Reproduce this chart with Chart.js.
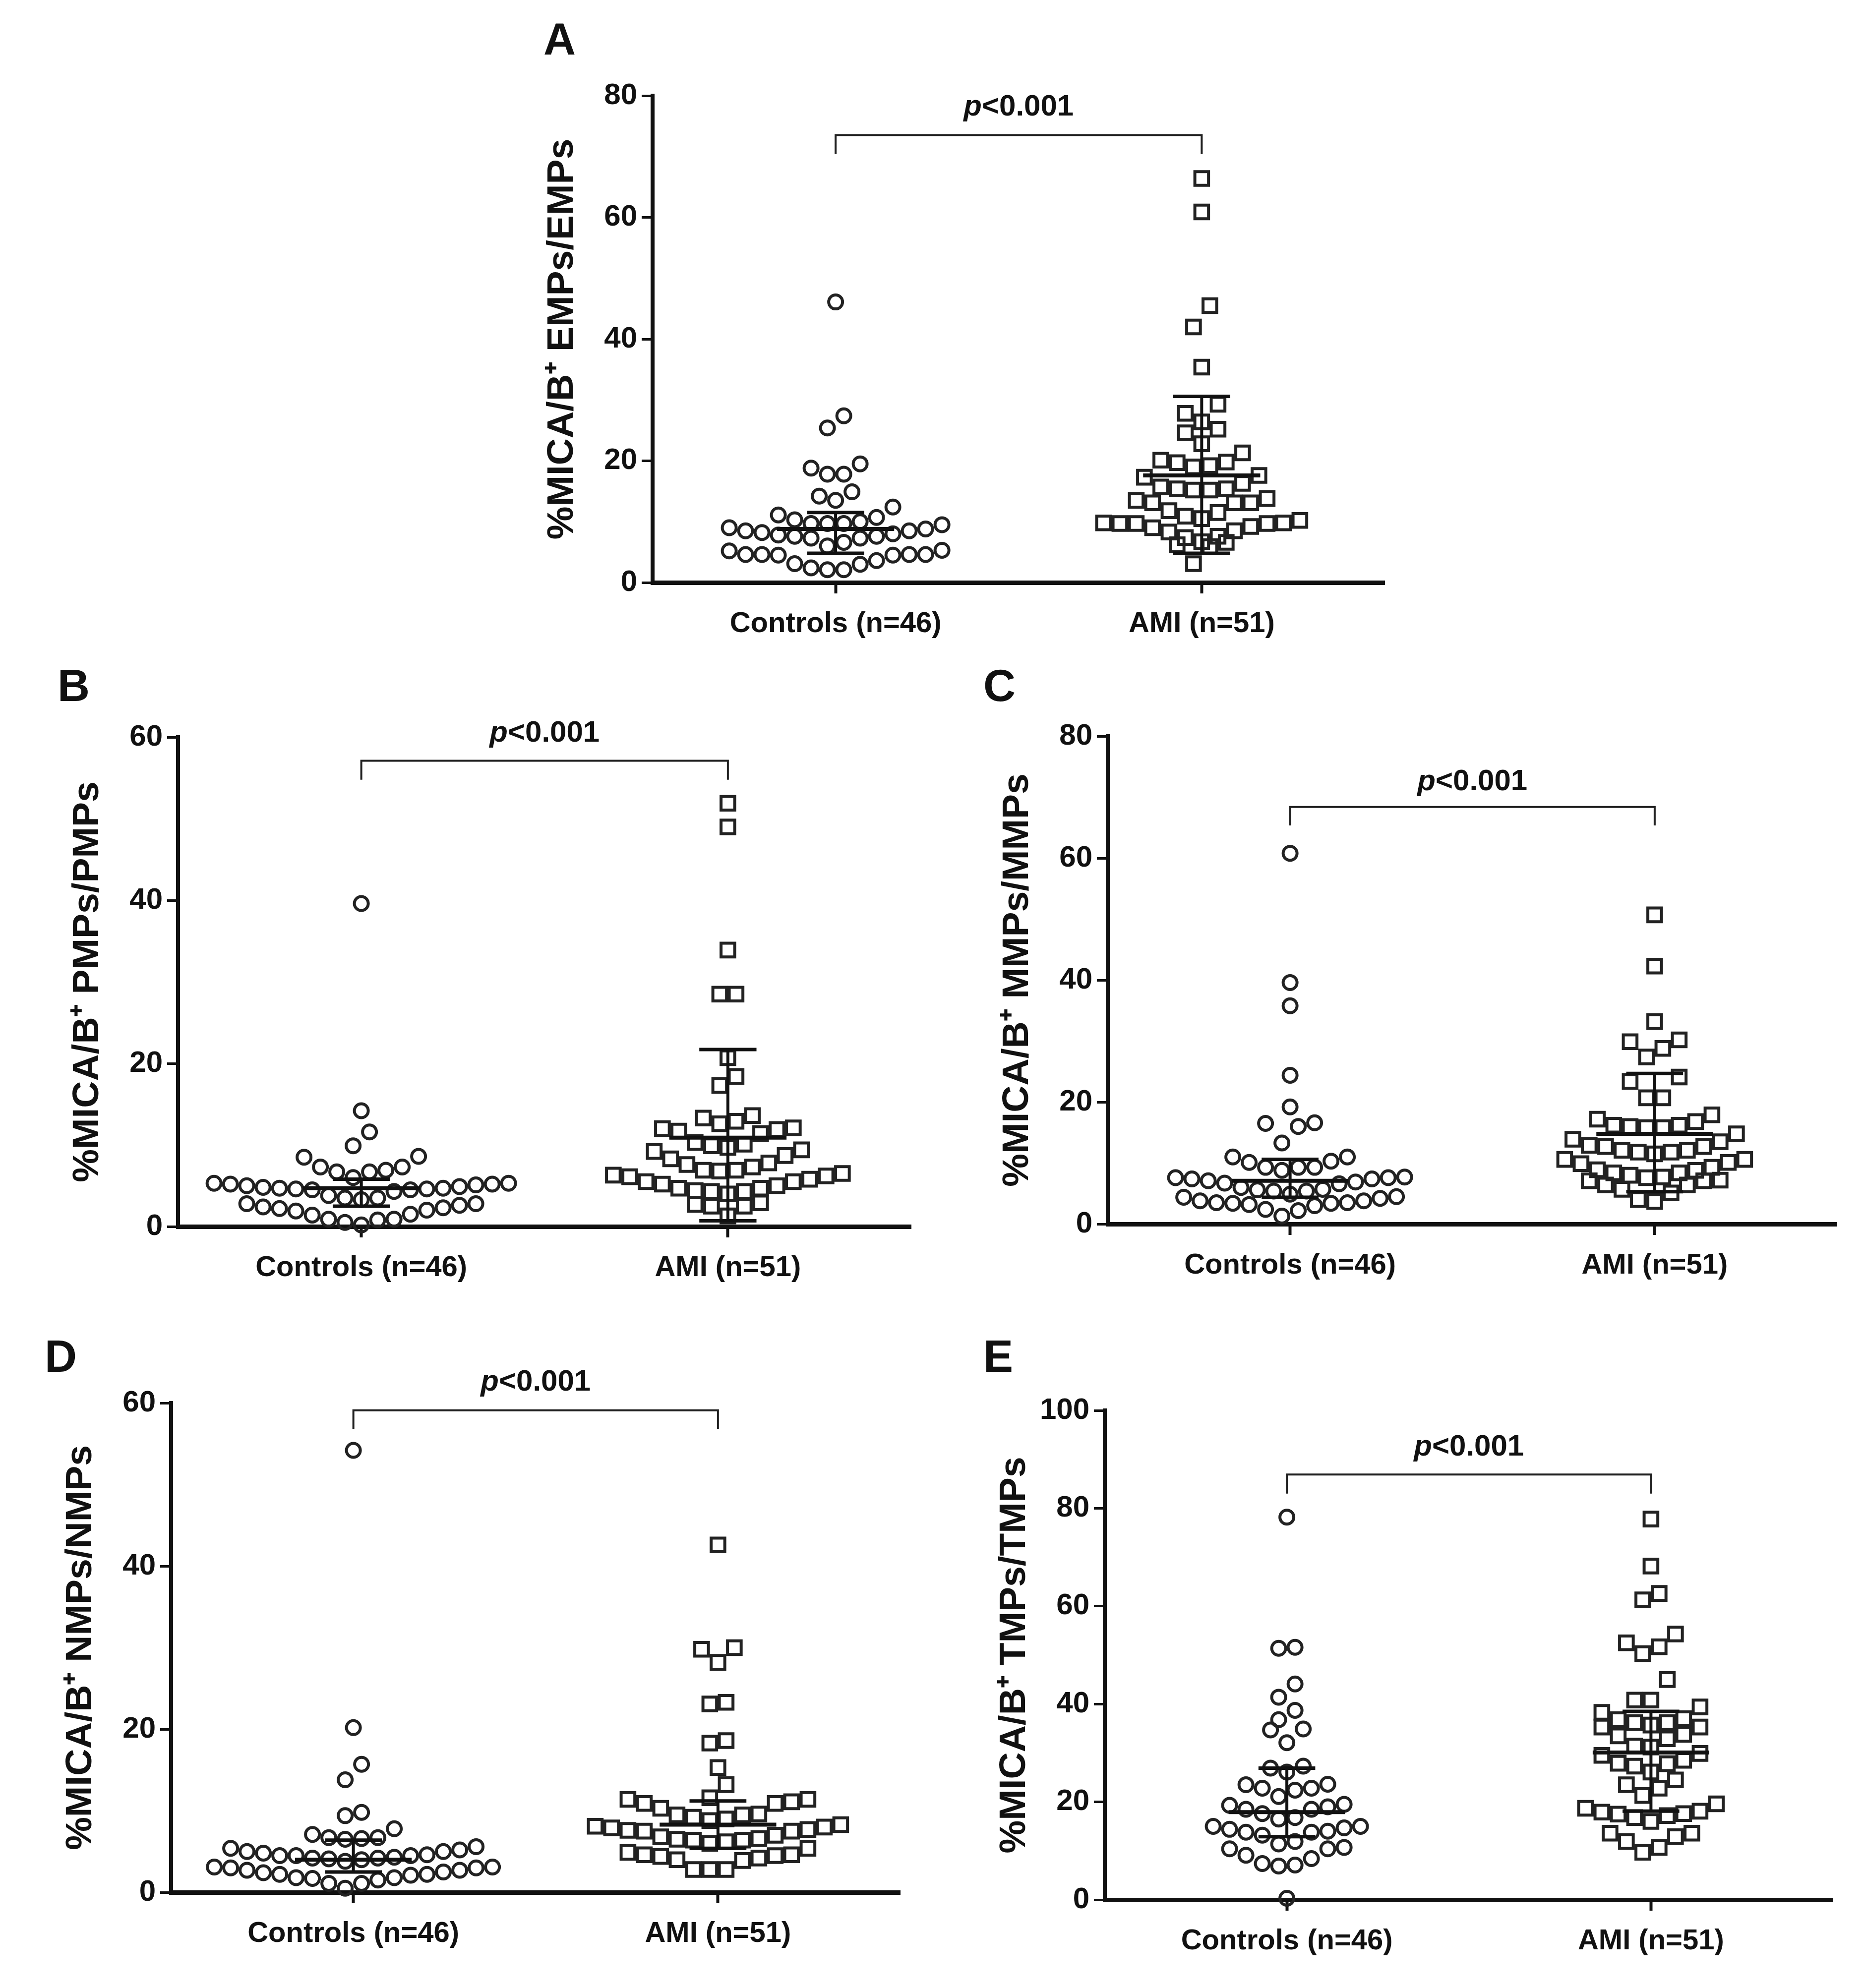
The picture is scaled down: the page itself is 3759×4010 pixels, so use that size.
<!DOCTYPE html>
<html>
<head>
<meta charset="utf-8">
<script src="https://cdn.jsdelivr.net/npm/chart.js@4.4.1/dist/chart.umd.min.js"></script>
<style>
  html, body { margin: 0; padding: 0; background: #fff; }
  body { width: 3759px; height: 4010px; position: relative; overflow: hidden; }
  .panel { position: absolute; }
  .letter { position: absolute; font: bold 90px 'Liberation Sans', Arial, sans-serif; line-height: 1; color: #111; }
</style>
</head>
<body>
<div class="letter" style="left:1096px;top:34px">A</div>
<div class="letter" style="left:116px;top:1338px">B</div>
<div class="letter" style="left:1983px;top:1338px">C</div>
<div class="letter" style="left:90px;top:2691px">D</div>
<div class="letter" style="left:1983px;top:2691px">E</div>

<script>
// ---------------------------------------------
// Datos
// ---------------------------------------------
const groupLabels = ['Controls (n=46)', 'AMI (n=51)'];
const pLabel = '<0.001';

// A: EMPs
const empControls = [46.1, 27.4, 25.4, 19.5, 18.8, 17.8, 17.8, 14.9, 14.2, 13.5, 12.4, 11.1, 10.7, 10.3, 10.0,
  9.7, 9.5, 8.8, 8.5, 8.2, 8.0, 7.8, 7.6, 7.6, 7.3, 7.3, 6.6, 6.0, 8.5, 9.0, 9.7, 9.7,
  5.3, 5.2, 4.6, 4.6, 4.6, 4.6, 4.5, 4.5, 3.6, 3.1, 3.0, 2.4, 2.1, 2.1];
const empAMI = [66.4, 60.9, 45.5, 42.0, 35.4, 29.3, 27.8, 26.4, 25.2, 24.6, 22.8, 21.3, 20.1, 19.8, 19.7, 19.2,
  19.0, 17.6, 17.3, 16.3, 15.7, 15.4, 15.4, 15.2, 15.2, 13.8, 13.5, 13.1, 13.1, 13.1, 11.8, 11.5, 10.9,
  10.5, 10.2, 9.8, 9.8, 9.7, 9.7, 9.7, 9.2, 9.0, 8.5, 8.3, 7.6, 7.4, 6.7, 6.6, 6.2, 5.9, 3.1];
const empMedian = [8.8, 17.6];
const empLow = [4.8, 4.8];
const empHigh = [11.5, 30.6];

// B: PMPs
const pmpControls = [39.6, 14.2, 11.6, 9.9, 8.6, 8.5, 7.3, 7.3, 6.9, 6.7, 6.7, 5.3, 5.2, 5.1, 4.8, 4.7, 4.5,
  4.6, 4.6, 4.7, 4.9, 5.0, 5.2, 5.3, 6.0, 4.3, 4.5, 3.8, 3.5, 3.3, 3.5, 2.8, 2.6, 2.3, 2.0, 1.4, 0.9,
  0.8, 0.2, 0.5, 0.9, 1.5, 1.9, 2.2, 2.4, 2.8];
const pmpAMI = [51.9, 49.0, 33.9, 28.5, 28.5, 20.7, 18.4, 17.3, 13.6, 13.3, 12.9, 12.6, 12.1, 12.0, 11.9, 11.7,
  11.4, 10.3, 10.1, 9.9, 9.7, 9.4, 9.2, 8.7, 8.3, 7.8, 7.6, 7.3, 6.9, 6.9, 6.8, 6.5, 6.3, 6.2, 6.1, 5.8,
  5.5, 5.5, 5.2, 5.0, 4.7, 4.7, 4.4, 4.3, 4.3, 4.0, 2.9, 2.7, 2.5, 2.5, 1.3];
const pmpMedian = [4.7, 10.9];
const pmpLow = [2.5, 0.7];
const pmpHigh = [5.8, 21.7];

// C: MMPs
const mmpControls = [60.8, 39.6, 35.8, 24.4, 19.2, 16.6, 16.5, 16.0, 13.3, 11.0, 11.0, 10.3, 10.1, 9.3, 9.3,
  9.3, 8.8, 7.7, 7.6, 7.6, 7.4, 7.4, 7.1, 6.9, 6.7, 6.6, 6.0, 5.7, 5.6, 5.4, 5.4, 4.9, 4.5, 4.4, 4.2,
  3.8, 3.8, 3.5, 3.5, 3.4, 3.4, 3.2, 3.0, 2.4, 2.2, 1.3];
const mmpAMI = [50.7, 42.3, 33.2, 30.2, 29.9, 28.8, 27.4, 24.1, 23.4, 20.7, 20.7, 17.9, 17.2, 16.8, 16.2, 16.2,
  16.0, 15.8, 15.8, 14.8, 13.9, 13.5, 12.9, 12.7, 12.7, 12.1, 12.1, 11.8, 11.8, 11.5, 10.6, 10.6, 10.1,
  9.9, 9.3, 8.9, 8.8, 8.4, 8.4, 8.0, 7.7, 7.6, 7.2, 7.1, 7.1, 6.4, 6.4, 5.7, 5.1, 4.0, 3.7];
const mmpMedian = [7.1, 14.8];
const mmpLow = [4.4, 5.3];
const mmpHigh = [10.6, 24.7];

// D: NMPs
const nmpControls = [54.2, 20.2, 15.7, 13.8, 9.8, 9.4, 7.8, 7.1, 6.7, 6.5, 6.6, 6.7, 5.6, 5.4, 5.2, 5.0, 5.0,
  4.6, 4.5, 4.5, 4.5, 4.3, 4.2, 4.1, 4.0, 3.8, 4.2, 3.1, 3.1, 3.0, 3.0, 2.7, 2.7, 2.5, 2.4, 2.2, 2.2,
  2.1, 1.8, 1.8, 1.7, 1.5, 1.1, 1.1, 0.5, 4.8];
const nmpAMI = [42.6, 30.0, 29.8, 28.2, 23.3, 23.1, 18.6, 18.3, 15.3, 13.2, 11.6, 11.4, 11.4, 11.1, 10.9, 10.9,
  10.3, 9.6, 9.5, 9.5, 9.2, 9.0, 8.8, 8.3, 8.1, 8.0, 7.9, 7.7, 7.6, 7.5, 7.5, 7.0, 6.8, 6.6, 6.5, 6.4,
  6.4, 6.0, 5.4, 4.9, 4.6, 4.6, 4.5, 4.4, 4.2, 4.0, 3.9, 2.8, 2.8, 2.8, 6.2];
const nmpMedian = [4.0, 8.3];
const nmpLow = [2.5, 5.4];
const nmpHigh = [6.4, 11.2];

// E: TMPs
const tmpControls = [78.2, 51.6, 51.4, 44.1, 41.4, 38.7, 36.8, 34.9, 34.7, 32.1, 27.3, 26.9, 26.1, 23.6, 23.5,
  22.8, 22.8, 22.4, 21.1, 19.5, 19.3, 19.0, 18.5, 18.5, 17.6, 16.8, 16.5, 15.0, 15.0, 14.7, 14.4, 14.0,
  13.8, 13.8, 13.2, 11.9, 11.4, 10.7, 10.4, 10.4, 9.1, 8.4, 7.4, 7.1, 6.9, 0.3];
const tmpAMI = [77.8, 68.2, 62.6, 61.3, 54.3, 52.5, 51.7, 50.3, 45.0, 40.8, 40.8, 39.4, 38.3, 37.0, 36.8, 36.2,
  36.2, 35.7, 35.3, 35.3, 33.8, 33.5, 32.9, 31.4, 31.2, 29.9, 29.5, 28.5, 27.9, 27.8, 27.3, 26.1, 24.5,
  23.5, 22.8, 21.3, 19.6, 18.7, 18.1, 17.9, 17.6, 17.5, 17.2, 16.8, 16.0, 13.6, 13.6, 12.9, 11.9, 10.7, 9.7];
const tmpMedian = [17.9, 30.1];
const tmpLow = [12.9, 18.1];
const tmpHigh = [26.9, 38.5];

// ---------------------------------------------
// Paneles: datos + colocación en la página
// ---------------------------------------------
const panels = [
  { values: [empControls, empAMI], median: empMedian, low: empLow, high: empHigh, yMax: 80,
    title: '%MICA/B\u207A EMPs/EMPs', axisX: 1316, top: 193, zero: 1175, spacing: 741,
    bracket: [0.081, 0.12], pY: 0.024 },
  { values: [pmpControls, pmpAMI], median: pmpMedian, low: pmpLow, high: pmpHigh, yMax: 60,
    title: '%MICA/B\u207A PMPs/PMPs', axisX: 359, top: 1487, zero: 2474, spacing: 742,
    bracket: [0.048, 0.087], pY: -0.008 },
  { values: [mmpControls, mmpAMI], median: mmpMedian, low: mmpLow, high: mmpHigh, yMax: 80,
    title: '%MICA/B\u207A MMPs/MMPs', axisX: 2234, top: 1485, zero: 2469, spacing: 738,
    bracket: [0.145, 0.183], pY: 0.094 },
  { values: [nmpControls, nmpAMI], median: nmpMedian, low: nmpLow, high: nmpHigh, yMax: 60,
    title: '%MICA/B\u207A NMPs/NMPs', axisX: 345, top: 2830, zero: 3817, spacing: 738,
    bracket: [0.015, 0.053], pY: -0.042 },
  { values: [tmpControls, tmpAMI], median: tmpMedian, low: tmpLow, high: tmpHigh, yMax: 100,
    title: '%MICA/B\u207A TMPs/TMPs', axisX: 2228, top: 2845, zero: 3832, spacing: 737,
    bracket: [0.131, 0.17], pY: 0.075 }
];

const FONT = "'Liberation Sans', Arial, Helvetica, sans-serif";
const INK = '#111';
const X_MAX = 2.5;
const PAD_L = 10, Y_W = 240, PAD_T = 90, X_H = 150, PAD_B = 10, PAD_R = 20;
const ROW_H = 44;   // alto de cada fila del "scatter dot plot" (px)
const ROW_D = 33;   // separación horizontal entre puntos de una fila (px)

// Mediana con rango intercuartílico + corchete con p
const statsPlugin = {
  id: 'stats',
  afterDatasetsDraw(chart) {
    const cfg = chart.config.options.plugins.stats;
    const { ctx, chartArea } = chart;
    const xs = chart.scales.x, ys = chart.scales.y;
    ctx.save();
    ctx.strokeStyle = INK;
    ctx.lineCap = 'butt';
    [0, 1].forEach(i => {
      const cx = xs.getPixelForValue(i + 1);
      const wMed = xs.getPixelForValue(i + 1.16) - cx;
      const wCap = xs.getPixelForValue(i + 1.078) - cx;
      const yMed = ys.getPixelForValue(cfg.median[i]);
      const yLo = ys.getPixelForValue(cfg.low[i]);
      const yHi = ys.getPixelForValue(cfg.high[i]);
      ctx.lineWidth = 6;
      ctx.beginPath(); ctx.moveTo(cx, yLo); ctx.lineTo(cx, yHi); ctx.stroke();
      ctx.lineWidth = 8;
      ctx.beginPath(); ctx.moveTo(cx - wMed, yMed); ctx.lineTo(cx + wMed, yMed); ctx.stroke();
      ctx.lineWidth = 7;
      ctx.beginPath(); ctx.moveTo(cx - wCap, yLo); ctx.lineTo(cx + wCap, yLo); ctx.stroke();
      ctx.beginPath(); ctx.moveTo(cx - wCap, yHi); ctx.lineTo(cx + wCap, yHi); ctx.stroke();
    });

    // corchete
    const h = chartArea.bottom - chartArea.top;
    const x1 = xs.getPixelForValue(1), x2 = xs.getPixelForValue(2);
    const yb = chartArea.top + cfg.bracket[0] * h;
    const ye = chartArea.top + cfg.bracket[1] * h;
    ctx.strokeStyle = '#222';
    ctx.lineWidth = 4;
    ctx.beginPath();
    ctx.moveTo(x1, ye); ctx.lineTo(x1, yb); ctx.lineTo(x2, yb); ctx.lineTo(x2, ye);
    ctx.stroke();

    // texto p<0.001
    const py = chartArea.top + cfg.pY * h;
    ctx.fillStyle = INK;
    ctx.textBaseline = 'middle';
    ctx.textAlign = 'left';
    ctx.font = 'italic bold 60px ' + FONT;
    const wp = ctx.measureText('p').width;
    ctx.font = 'bold 60px ' + FONT;
    const wr = ctx.measureText(pLabel).width;
    const sx = (x1 + x2) / 2 - (wp + wr) / 2;
    ctx.font = 'italic bold 60px ' + FONT;
    ctx.fillText('p', sx, py);
    ctx.font = 'bold 60px ' + FONT;
    ctx.fillText(pLabel, sx + wp, py);
    ctx.restore();
  }
};

// Reparto en filas (como el scatter dot plot de GraphPad): los valores cercanos
// comparten fila; dentro de la fila los menores van al centro
function swarmOffsets(values, cat, xs, ys) {
  const cx = xs.getPixelForValue(cat);
  const order = values.map((v, i) => i).sort((a, b) => values[a] - values[b]);
  const out = new Array(values.length);
  let k = 0;
  while (k < order.length) {
    const y0 = ys.getPixelForValue(values[order[k]]);
    const row = [];
    while (k < order.length && y0 - ys.getPixelForValue(values[order[k]]) < ROW_H) {
      row.push(order[k]);
      k++;
    }
    const n = row.length;
    const slots = [];
    for (let j = 0; j < n; j++) slots.push((j - (n - 1) / 2) * ROW_D);
    slots.sort((a, b) => (Math.abs(a) - Math.abs(b)) || (a - b));
    row.forEach((idx, j) => { out[idx] = xs.getValueForPixel(cx + slots[j]); });
  }
  return out;
}

panels.forEach(p => {
  const areaW = (X_MAX - 0.5) * p.spacing;
  const left = p.axisX - PAD_L - Y_W;
  const top = p.top - PAD_T;
  const width = PAD_L + Y_W + areaW + PAD_R;
  const height = PAD_T + (p.zero - p.top) + X_H + PAD_B;

  const wrap = document.createElement('div');
  wrap.className = 'panel';
  wrap.style.cssText = `left:${left}px;top:${top}px;width:${width}px;height:${height}px;`;
  const canvas = document.createElement('canvas');
  wrap.appendChild(canvas);
  document.body.appendChild(wrap);

  const chart = new Chart(canvas.getContext('2d'), {
    type: 'scatter',
    data: {
      datasets: [
        {
          label: groupLabels[0],
          data: p.values[0].map(v => ({ x: 1, y: v })),
          pointStyle: 'circle',
          pointRadius: 14,
          pointHoverRadius: 14,
          pointBorderWidth: 6,
          pointBorderColor: '#222',
          pointBackgroundColor: 'rgba(255,255,255,0)',
          clip: false
        },
        {
          label: groupLabels[1],
          data: p.values[1].map(v => ({ x: 2, y: v })),
          pointStyle: 'rect',
          pointRadius: 19.5,
          pointHoverRadius: 19.5,
          pointBorderWidth: 6,
          pointBorderColor: '#222',
          pointBackgroundColor: 'rgba(255,255,255,0)',
          clip: false
        }
      ]
    },
    options: {
      responsive: true,
      maintainAspectRatio: false,
      animation: false,
      devicePixelRatio: 1,
      events: [],
      layout: { padding: { left: PAD_L, top: PAD_T, right: PAD_R, bottom: PAD_B } },
      scales: {
        x: {
          type: 'linear',
          min: 0.5,
          max: X_MAX,
          afterBuildTicks: s => { s.ticks = [{ value: 1 }, { value: 2 }]; },
          afterFit: s => { s.height = X_H; },
          grid: { display: true, drawOnChartArea: false, drawTicks: true, tickLength: 22, tickWidth: 6, tickColor: INK },
          border: { display: true, width: 9, color: INK },
          ticks: {
            autoSkip: false,
            maxRotation: 0,
            padding: 27,
            color: INK,
            font: { family: FONT, size: 58, weight: 'bold', lineHeight: 1.2 },
            callback: v => groupLabels[v - 1] || ''
          }
        },
        y: {
          min: 0,
          max: p.yMax,
          afterFit: s => { s.width = Y_W; },
          grid: { display: true, drawOnChartArea: false, drawTicks: true, tickLength: 22, tickWidth: 5, tickColor: INK },
          border: { display: true, width: 8, color: INK },
          ticks: {
            stepSize: 20,
            padding: 9,
            color: INK,
            font: { family: FONT, size: 60, weight: 'bold' }
          },
          title: {
            display: true,
            text: p.title,
            color: INK,
            padding: { top: 13, bottom: 0 },
            font: { family: FONT, size: 75, weight: 'bold', lineHeight: 1.2 }
          }
        }
      },
      plugins: {
        legend: { display: false },
        tooltip: { enabled: false },
        stats: { median: p.median, low: p.low, high: p.high, bracket: p.bracket, pY: p.pY }
      }
    },
    plugins: [statsPlugin]
  });

  // posición horizontal de cada punto según su fila
  const xs = chart.scales.x, ys = chart.scales.y;
  [0, 1].forEach(g => {
    const offs = swarmOffsets(p.values[g], g + 1, xs, ys);
    chart.data.datasets[g].data = p.values[g].map((v, i) => ({ x: offs[i], y: v }));
  });
  chart.update('none');
});
</script>
</body>
</html>
